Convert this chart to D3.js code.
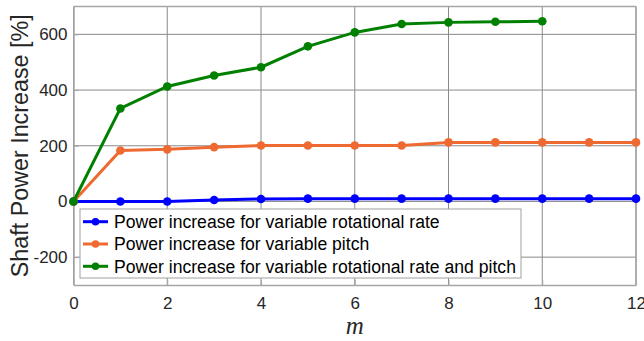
<!DOCTYPE html>
<html lang="en">
<head>
<meta charset="utf-8">
<title>Shaft Power Increase</title>
<script src="https://d3js.org/d3.v7.min.js"></script>
<style>
body { margin: 0; background: #fff; }
</style>
</head>
<body>
<script>
// data
const mRate = [0,1,2,3,4,5,6,7,8,9,10,11,12];
const rateVals = [0,0,0,5,9,10,10,10,10,10,10,10,10];
const mPitch = [0,1,2,3,4,5,6,7,8,9,10,11,12];
const pitchVals = [0,183,187,195,201,201,201,201,212,212,212,212,212];
const mBoth = [0,1,2,3,4,5,6,7,8,9,10];
const bothVals = [0,334,413,452,482,557,607,637,643,645,647];
const seriesNames = [
  "Power increase for variable rotational rate",
  "Power increase for variable pitch",
  "Power increase for variable rotational rate and pitch"
];
const seriesColors = ["#0000ff", "#ee6a30", "#008000"];
const xTicks = [0,2,4,6,8,10,12];
const yTicks = [-200,0,200,400,600];

const svgW = 644, svgH = 341;
const plotL = 73.5, plotR = 636, plotT = 6.5, plotB = 285;
const sans = "Liberation Sans, Arial, sans-serif";

const svg = d3.select("body").append("svg")
  .attr("width", svgW).attr("height", svgH)
  .style("font-family", sans);

const x = d3.scaleLinear().domain([0, 12]).range([plotL, plotR]);
const y = d3.scaleLinear().domain([-300, 700]).range([plotB, plotT]);

// grid
svg.append("g").selectAll("line").data(xTicks).join("line")
  .attr("x1", d => x(d)).attr("x2", d => x(d))
  .attr("y1", plotT).attr("y2", plotB)
  .attr("stroke", "#8a8a8a").attr("stroke-width", 1);
svg.append("g").selectAll("line").data(yTicks).join("line")
  .attr("y1", d => y(d)).attr("y2", d => y(d))
  .attr("x1", plotL).attr("x2", plotR)
  .attr("stroke", "#8a8a8a").attr("stroke-width", 1);

// axes
const xAxis = d3.axisBottom(x).tickValues(xTicks).tickSizeInner(-5).tickSizeOuter(0).tickPadding(12)
  .tickFormat(d => String(d));
const yAxis = d3.axisLeft(y).tickValues(yTicks).tickSizeInner(-5).tickSizeOuter(0).tickPadding(6)
  .tickFormat(d => String(d));

const gx = svg.append("g").attr("transform", `translate(0,${plotB})`).call(xAxis);
const gy = svg.append("g").attr("transform", `translate(${plotL},0)`).call(yAxis);
[gx, gy].forEach(g => {
  g.attr("font-family", sans);
  g.select(".domain").attr("stroke", "#a6a6a6").attr("stroke-width", 1.5);
  g.selectAll(".tick line").attr("stroke", "#a6a6a6");
  g.selectAll(".tick text").attr("fill", "#262626").attr("font-size", 17);
});

// box top / right
svg.append("line").attr("x1", plotL).attr("x2", plotR).attr("y1", plotT).attr("y2", plotT)
  .attr("stroke", "#a6a6a6").attr("stroke-width", 1.5);
svg.append("line").attr("x1", plotR).attr("x2", plotR).attr("y1", plotT).attr("y2", plotB)
  .attr("stroke", "#a6a6a6").attr("stroke-width", 1.5);

// lines
const series = [
  { m: mRate, v: rateVals },
  { m: mPitch, v: pitchVals },
  { m: mBoth, v: bothVals }
];
const line = d3.line().x(d => x(d[0])).y(d => y(d[1]));

series.forEach((s, i) => {
  const pts = s.m.map((m, j) => [m, s.v[j]]);
  svg.append("path").datum(pts)
    .attr("d", line)
    .attr("fill", "none")
    .attr("stroke", seriesColors[i])
    .attr("stroke-width", 3);
  svg.append("g").selectAll("circle").data(pts).join("circle")
    .attr("cx", d => x(d[0])).attr("cy", d => y(d[1]))
    .attr("r", 4.3).attr("fill", seriesColors[i]);
});

// legend
const lg = svg.append("g");
lg.append("rect").attr("x", 80).attr("y", 209).attr("width", 441).attr("height", 69)
  .attr("fill", "#fff").attr("stroke", "#a0a0a0").attr("stroke-width", 1);
seriesNames.forEach((name, i) => {
  const yy = 221.7 + i * 22.3;
  lg.append("line").attr("x1", 83).attr("x2", 108).attr("y1", yy).attr("y2", yy)
    .attr("stroke", seriesColors[i]).attr("stroke-width", 3);
  lg.append("circle").attr("cx", 95.5).attr("cy", yy).attr("r", 3.8).attr("fill", seriesColors[i]);
  lg.append("text").attr("x", 114).attr("y", yy + 6.3)
    .attr("font-size", 17.6).attr("fill", "#000").text(name);
});

// axis labels
svg.append("text")
  .attr("transform", `translate(28,${(plotT + plotB) / 2}) rotate(-90)`)
  .attr("text-anchor", "middle")
  .attr("font-size", 23.3).attr("fill", "#262626")
  .text("Shaft Power Increase [%]");

svg.append("text")
  .attr("x", x(6)).attr("y", 334)
  .attr("text-anchor", "middle")
  .style("font-family", "Liberation Serif, Times New Roman, serif")
  .attr("font-style", "italic")
  .attr("font-size", 25).attr("fill", "#262626")
  .text("m");
</script>
</body>
</html>
